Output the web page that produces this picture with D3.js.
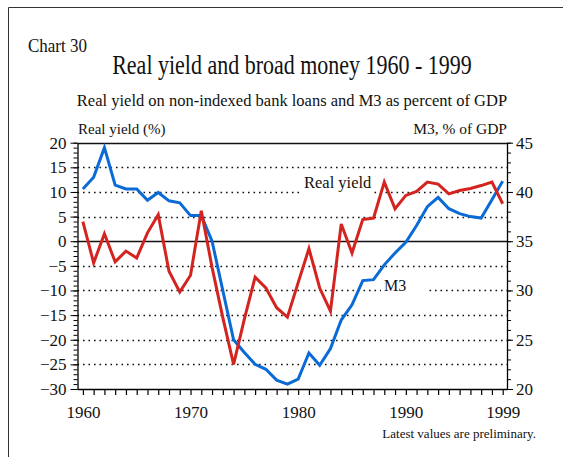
<!DOCTYPE html>
<html>
<head>
<meta charset="utf-8">
<script src="https://cdn.jsdelivr.net/npm/d3@7"></script>
<style>
  body { margin: 0; background: #fff; }
  svg text { font-family: "Liberation Serif", "Times New Roman", serif; fill: #111; }
</style>
</head>
<body>
<svg width="563" height="457"></svg>
<script>
// Years on the x axis
const years = [1960, 1961, 1962, 1963, 1964, 1965, 1966, 1967, 1968, 1969,
               1970, 1971, 1972, 1973, 1974, 1975, 1976, 1977, 1978, 1979,
               1980, 1981, 1982, 1983, 1984, 1985, 1986, 1987, 1988, 1989,
               1990, 1991, 1992, 1993, 1994, 1995, 1996, 1997, 1998, 1999];

// Real yield on non-indexed bank loans (%), left axis
const realYield = [4.0, -4.4, 1.5, -4.2, -2.0, -3.4, 1.7, 5.4, -6.1, -10.3,
                   -6.9, 6.2, -5.3, -15.5, -25.0, -15.8, -7.3, -9.5, -13.5, -15.4,
                   -8.4, -1.5, -9.5, -14.2, 3.5, -2.4, 4.4, 4.7, 12.0, 6.6,
                   9.3, 10.1, 12.0, 11.6, 9.6, 10.3, 10.7, 11.3, 12.0, 7.6];

// M3 as percent of GDP, right axis
const m3 = [40.3, 41.5, 44.5, 40.7, 40.3, 40.3, 39.15, 39.95, 39.1, 38.9,
            37.6, 37.6, 35.0, 30.0, 25.0, 23.7, 22.5, 22.0, 20.9, 20.5,
            21.0, 23.65, 22.4, 24.1, 27.0, 28.55, 31.0, 31.1, 32.6, 33.8,
            34.9, 36.6, 38.5, 39.45, 38.3, 37.8, 37.5, 37.35, 39.2, 41.1];

// Tick labels
const leftTicks = [-30, -25, -20, -15, -10, -5, 0, 5, 10, 15, 20];
const rightTicks = [20, 25, 30, 35, 40, 45];
const yearLabels = [1960, 1970, 1980, 1990, 1999];

const serif = '"Liberation Serif", "Times New Roman", serif';
const svg = d3.select("svg");

// Outer frame (top and left edge)
svg.append("path")
    .attr("d", "M8.5,457 V7.5 H563")
    .attr("fill", "none")
    .attr("stroke", "#333")
    .attr("stroke-width", 1);

// Scales
const x = d3.scaleLinear().domain([1959.5, 1999.4]).range([77.5, 507]);
const yLeft = d3.scaleLinear().domain([-30, 20]).range([389, 142.7]);
const yRight = d3.scaleLinear().domain([20, 45]).range([389, 142.7]);

// Titles (the reference type is a little taller than it is wide)
svg.append("text")
    .attr("transform", "translate(28,52) scale(1,1.15)")
    .style("font-size", "17px").text("Chart 30");
svg.append("text")
    .attr("transform", "translate(292,74) scale(1,1.2)")
    .attr("text-anchor", "middle")
    .style("font-size", "22px")
    .text("Real yield and broad money 1960 - 1999");
svg.append("text").attr("x", 292).attr("y", 106)
    .attr("text-anchor", "middle")
    .style("font-size", "16.5px")
    .text("Real yield on non-indexed bank loans and M3 as percent of GDP");
svg.append("text").attr("x", 78).attr("y", 134)
    .style("font-size", "15px").text("Real yield (%)");
svg.append("text").attr("x", 507).attr("y", 134)
    .attr("text-anchor", "end")
    .style("font-size", "15.5px").text("M3, % of GDP");

// Grid lines every 5 on the left scale
const grid = svg.append("g");
grid.selectAll("line")
    .data(leftTicks.filter(d => d > -30))
    .enter()
    .append("line")
        .attr("x1", 77.5)
        .attr("x2", 507)
        .attr("y1", d => Math.round(yLeft(d)) + 0.5)
        .attr("y2", d => Math.round(yLeft(d)) + 0.5)
        .attr("stroke", "#111")
        .attr("stroke-width", d => (d === 0 || d === 20) ? 1.3 : 1.6)
        .attr("stroke-dasharray", d => (d === 0 || d === 20) ? null : "1.6,3.9");

// Left axis: minor ticks, then major ticks with labels
svg.append("g")
    .attr("transform", "translate(77.5,0)")
    .call(d3.axisLeft(yLeft).ticks(50).tickSize(4).tickSizeOuter(0).tickFormat(""))
    .call(g => g.select(".domain").remove());
svg.append("g")
    .attr("transform", "translate(77.5,0)")
    .call(d3.axisLeft(yLeft).tickValues(leftTicks).tickSize(7).tickSizeOuter(0).tickPadding(4))
    .call(g => g.selectAll("text").style("font-size", "17px").style("font-family", serif))
    .call(g => g.select(".domain").attr("stroke-width", 1.3));

// Right axis
svg.append("g")
    .attr("transform", "translate(507,0)")
    .call(d3.axisRight(yRight).ticks(25).tickSize(4).tickSizeOuter(0).tickFormat(""))
    .call(g => g.select(".domain").remove());
svg.append("g")
    .attr("transform", "translate(507,0)")
    .call(d3.axisRight(yRight).tickValues(rightTicks).tickSize(6).tickSizeOuter(0).tickPadding(3))
    .call(g => g.selectAll("text").style("font-size", "17px").style("font-family", serif))
    .call(g => g.select(".domain").attr("stroke-width", 1.3));

// Bottom axis: a tick every year, labels on some
svg.append("g")
    .attr("transform", "translate(0,389)")
    .call(d3.axisBottom(x).tickValues(years).tickSize(6).tickSizeOuter(0).tickFormat(""))
    .call(g => g.select(".domain").attr("stroke-width", 1.3))
    .call(g => g.selectAll(".tick line").attr("stroke-width", 1.2));
svg.append("g")
    .attr("transform", "translate(0,389)")
    .call(d3.axisBottom(x).tickValues(yearLabels).tickSize(0).tickPadding(17).tickFormat(d3.format("d")))
    .call(g => g.select(".domain").remove())
    .call(g => g.selectAll("text").style("font-size", "17px").style("font-family", serif));

// Inline series labels on white boxes (they break the grid lines)
svg.append("rect").attr("x", 302).attr("y", 174).attr("width", 72).attr("height", 21).attr("fill", "#fff");
svg.append("text").attr("x", 304).attr("y", 188)
    .style("font-size", "16.5px").text("Real yield");
svg.append("rect").attr("x", 381).attr("y", 276).attr("width", 47).attr("height", 20).attr("fill", "#fff");
svg.append("text").attr("x", 384).attr("y", 291)
    .style("font-size", "16px").text("M3");

// Lines
const m3Line = d3.line()
    .x((d, i) => x(years[i]))
    .y(d => yRight(d));
const yieldLine = d3.line()
    .x((d, i) => x(years[i]))
    .y(d => yLeft(d));

svg.append("path")
    .datum(m3)
    .attr("d", m3Line)
    .attr("fill", "none")
    .attr("stroke", "#0a6ad6")
    .attr("stroke-width", 3);

svg.append("path")
    .datum(realYield)
    .attr("d", yieldLine)
    .attr("fill", "none")
    .attr("stroke", "#d42420")
    .attr("stroke-width", 3);

// Footnote
svg.append("text").attr("x", 536).attr("y", 438)
    .attr("text-anchor", "end")
    .style("font-size", "13px")
    .text("Latest values are preliminary.");
</script>
</body>
</html>
